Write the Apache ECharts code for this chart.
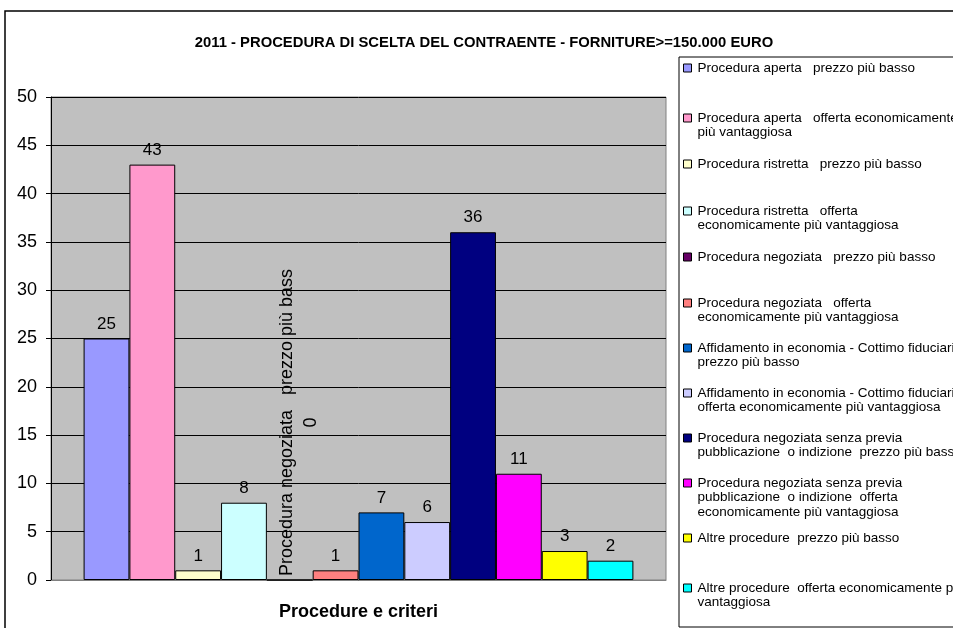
<!DOCTYPE html>
<html>
<head>
<meta charset="utf-8">
<script src="https://cdn.jsdelivr.net/npm/echarts@6/dist/echarts.min.js"></script>
<style>
  html, body { margin: 0; padding: 0; background: #fff; }
  #chart { width: 953px; height: 628px; }
</style>
</head>
<body>
<div id="chart"></div>
<script>
const titleText = '2011 - PROCEDURA DI SCELTA DEL CONTRAENTE - FORNITURE>=150.000 EURO';
const categories = [''];
const seriesNames = [
  'Procedura aperta   prezzo più basso',
  'Procedura aperta   offerta economicamente\npiù vantaggiosa',
  'Procedura ristretta   prezzo più basso',
  'Procedura ristretta   offerta\neconomicamente più vantaggiosa',
  'Procedura negoziata   prezzo più basso',
  'Procedura negoziata   offerta\neconomicamente più vantaggiosa',
  'Affidamento in economia - Cottimo fiduciario\nprezzo più basso',
  'Affidamento in economia - Cottimo fiduciario\nofferta economicamente più vantaggiosa',
  'Procedura negoziata senza previa\npubblicazione  o indizione  prezzo più basso',
  'Procedura negoziata senza previa\npubblicazione  o indizione  offerta\neconomicamente più vantaggiosa',
  'Altre procedure  prezzo più basso',
  'Altre procedure  offerta economicamente più\nvantaggiosa'
];
const seriesValues = [25, 43, 1, 8, 0, 1, 7, 6, 36, 11, 3, 2];
const yTicks = [0, 5, 10, 15, 20, 25, 30, 35, 40, 45, 50];

const colors = ['#9999FF', '#FF99CC', '#FFFFCC', '#CCFFFF', '#660066', '#FF8080',
  '#0066CC', '#CCCCFF', '#000080', '#FF00FF', '#FFFF00', '#00FFFF'];
// first-line centre of each legend entry (px)
const legendRows = [68, 118, 164, 211, 257, 303, 348, 393, 438, 483, 538, 588];
const legendLine = 14.5;

const font = 'Arial, "Liberation Sans", sans-serif';
const chart = echarts.init(document.getElementById('chart'));

const series = seriesNames.map((name, i) => {
  const zero = seriesValues[i] === 0;
  return {
    name: name,
    type: 'bar',
    data: [seriesValues[i]],
    barGap: '0%',
    barCategoryGap: '10.6%',
    itemStyle: { color: colors[i], borderColor: '#000', borderWidth: 1 },
    label: zero ? {
      show: true,
      position: [33, -157],
      rotate: 90,
      align: 'center',
      verticalAlign: 'middle',
      formatter: '{a}\n{c}',
      fontSize: 18,
      lineHeight: 24,
      width: 310,
      overflow: 'truncate',
      ellipsis: '',
      color: '#000',
      fontFamily: font
    } : {
      show: true,
      position: 'top',
      distance: 6,
      fontSize: 17,
      color: '#000',
      fontFamily: font
    }
  };
});

// one legend per entry so every row sits on its own slot; the text is padded
// with empty lines above so the marker lines up with the first text line
const legends = seriesNames.map((name, i) => {
  const lines = name.split('\n').length;
  return {
    data: [name],
    left: 683,
    top: legendRows[i] - (2 * lines - 1) * legendLine / 2,
    padding: 0,
    orient: 'vertical',
    selectedMode: false,
    itemWidth: 8,
    itemHeight: 8,
    icon: 'rect',
    itemStyle: { borderColor: '#000', borderWidth: 1 },
    formatter: (n) => ' \n'.repeat(lines - 1) + n,
    textStyle: {
      fontSize: 13.5,
      lineHeight: legendLine,
      color: '#000',
      fontFamily: font,
      padding: [0, 0, 0, 1]
    }
  };
});

chart.setOption({
  animation: false,
  color: colors,
  title: {
    text: titleText,
    left: 479,
    top: 30,
    textAlign: 'center',
    textStyle: { fontSize: 14.8, fontWeight: 'bold', color: '#000', fontFamily: font }
  },
  legend: legends,
  graphic: [
    {
      type: 'rect', z: -10, silent: true,
      shape: { x: 5, y: 11, width: 1000, height: 700 },
      style: { fill: 'none', stroke: '#000', lineWidth: 1.5 }
    },
    {
      type: 'rect', z: -10, silent: true,
      shape: { x: 679, y: 57, width: 400, height: 570 },
      style: { fill: 'none', stroke: '#000', lineWidth: 1 }
    }
  ],
  grid: {
    left: 51, right: 287, top: 97, bottom: 48,
    outerBoundsMode: 'none',
    containLabel: false,
    show: true,
    backgroundColor: '#C0C0C0',
    borderColor: '#808080',
    borderWidth: 1
  },
  xAxis: {
    type: 'category',
    data: categories,
    name: 'Procedure e criteri',
    nameLocation: 'middle',
    nameGap: 23,
    nameTextStyle: { fontSize: 18, fontWeight: 'bold', color: '#000', fontFamily: font },
    axisLine: { lineStyle: { color: '#808080' } },
    axisTick: { show: false },
    axisLabel: { show: false }
  },
  yAxis: {
    type: 'value',
    min: yTicks[0],
    max: yTicks[yTicks.length - 1],
    interval: yTicks[1] - yTicks[0],
    axisLine: { show: true, lineStyle: { color: '#000' } },
    axisTick: { show: true, length: 5, lineStyle: { color: '#000' } },
    axisLabel: { fontSize: 18, color: '#000', margin: 14, fontFamily: font },
    splitLine: { lineStyle: { color: '#000', width: 1 } }
  },
  series: series
});
</script>
</body>
</html>
